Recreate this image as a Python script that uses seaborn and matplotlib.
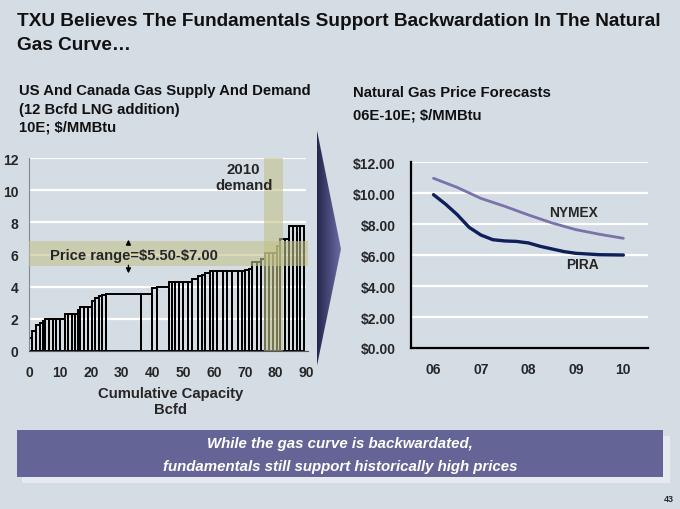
import numpy as np
import pandas as pd
import matplotlib
matplotlib.use("Agg")
import matplotlib.pyplot as plt
from matplotlib.patches import Polygon, Rectangle
import seaborn as sns

# ---------------------------------------------------------------
# DATA
# ---------------------------------------------------------------
# supply stack: bar edges (cumulative capacity, Bcfd) and cost ($/MMBtu)
SUPPLY_EDGES = [0.0, 0.8, 2.2, 3.6, 4.4, 5.2, 6.3, 7.7, 8.8, 10.1, 11.6,
                12.6, 13.8, 15.0, 15.9, 16.6, 17.7, 19.0, 20.4, 21.4, 22.5,
                23.6, 24.9, 36.4, 40.0, 41.4, 45.5, 46.2, 47.3, 48.6, 50.0,
                51.6, 53.0, 54.9, 56.0, 57.2, 58.6, 59.7, 61.0, 63.0, 64.1,
                65.7, 67.9, 69.0, 70.2, 71.2, 72.2, 73.8, 75.4, 76.5, 77.8,
                79.0, 80.3, 81.4, 82.9, 84.4, 85.7, 86.8, 87.9, 89.2]
SUPPLY_PRICE = [0.8, 1.2, 1.6, 1.75, 1.85, 1.95, 2.0, 2.0, 2.0, 2.0,
                2.3, 2.3, 2.3, 2.3, 2.55, 2.75, 2.75, 2.75, 3.1, 3.3,
                3.4, 3.5, 3.55, 3.55, 3.9, 4.0, 4.3, 4.3, 4.3, 4.3,
                4.3, 4.3, 4.45, 4.65, 4.75, 4.85, 4.95, 4.95, 4.95, 4.95,
                4.95, 4.95, 4.95, 4.95, 5.05, 5.1, 5.55, 5.55, 5.75, 6.1,
                6.1, 6.1, 6.55, 6.95, 6.95, 7.75, 7.75, 7.75, 7.75]
PRICE_RANGE = (5.3, 6.83)
DEMAND_2010 = (76.1, 82.4)
SUPPLY_YTICKS = [0, 2, 4, 6, 8, 10, 12]
SUPPLY_XTICKS = [0, 10, 20, 30, 40, 50, 60, 70, 80, 90]

# price forecasts ($/MMBtu)
NYMEX_YEAR = [6.0, 6.5, 7.0, 7.5, 8.0, 8.5, 9.0, 9.5, 10.0]
NYMEX_PRICE = [10.97, 10.38, 9.67, 9.16, 8.60, 8.08, 7.65, 7.35, 7.09]
PIRA_YEAR = [6.0, 6.25, 6.5, 6.75, 7.0, 7.25, 7.5, 7.75, 8.0, 8.25, 8.5,
             8.75, 9.0, 9.5, 10.0]
PIRA_PRICE = [9.91, 9.31, 8.62, 7.80, 7.30, 7.00, 6.92, 6.89, 6.79, 6.57,
              6.40, 6.23, 6.12, 6.03, 6.01]
YEAR_TICKS = [6, 7, 8, 9, 10]
YEAR_LABELS = ['06', '07', '08', '09', '10']
PRICE_TICKS = [0, 2, 4, 6, 8, 10, 12]

BG = '#d4dce4'
BAND = '#c2c28a'
NYMEX_COL = '#7a72aa'
PIRA_COL = '#0f1f5a'

sns.set_theme(style='white')
plt.rcParams['font.family'] = ['Liberation Sans', 'DejaVu Sans']
plt.rcParams['font.weight'] = 'bold'
plt.rcParams['text.parse_math'] = False

fig = plt.figure(figsize=(6.8, 5.1), dpi=100, facecolor=BG)

# overlay in pixel coordinates for slide decorations
deco = fig.add_axes([0, 0, 1, 1], zorder=0)
deco.axis('off')
deco.patch.set_alpha(0)

# chevron with gradient
chev = Polygon([(316.7, 130), (341, 250), (316.7, 368)], closed=True,
               facecolor='none', edgecolor='none')
deco.add_patch(chev)
grad = np.linspace(0, 1, 64).reshape(1, -1)
cmap = matplotlib.colors.LinearSegmentedColormap.from_list('chev', ['#26274c', '#6e6ea8'])
im = deco.imshow(grad, cmap=cmap, extent=(316.7, 341, 368, 130), aspect='auto')
im.set_clip_path(chev)
deco.set_xlim(0, 680)
deco.set_ylim(510, 0)

# banner with shadow
deco.add_patch(Rectangle((22, 437), 648, 47, facecolor='#e6eaee', edgecolor='none'))
deco.add_patch(Rectangle((16.5, 431), 646, 47, facecolor='#646496', edgecolor='none'))
deco.text(340, 444, 'While the gas curve is backwardated,', color='white',
          fontsize=10.8, fontweight='bold', style='italic', ha='center', va='center')
deco.text(340, 467, 'fundamentals still support historically high prices', color='white',
          fontsize=10.8, fontweight='bold', style='italic', ha='center', va='center')
deco.text(669, 500, '43', fontsize=6.5, fontweight='bold', ha='center', va='center')

# titles
deco.text(17, 22, 'TXU Believes The Fundamentals Support Backwardation In The Natural',
          fontsize=13.7, fontweight='bold', color='#111111', va='center')
deco.text(17, 46, 'Gas Curve\u2026', fontsize=13.7, fontweight='bold', color='#111111', va='center')
for y, s in zip([91, 110, 128], ['US And Canada Gas Supply And Demand',
                                 '(12 Bcfd LNG addition)', '10E; $/MMBtu']):
    deco.text(19, y, s, fontsize=10.7, fontweight='bold', color='#111111', va='center')
deco.text(353, 93, 'Natural Gas Price Forecasts', fontsize=10.7, fontweight='bold',
          color='#111111', va='center')
deco.text(353, 115, '06E-10E; $/MMBtu', fontsize=10.7, fontweight='bold',
          color='#111111', va='center')

# ---------------------------------------------------------------
# LEFT: supply stack
# ---------------------------------------------------------------
ax1 = fig.add_axes([0.0431, 0.3104, 0.4143, 0.3772], zorder=1)
ax1.patch.set_alpha(0)
widths = np.diff(SUPPLY_EDGES)
ax1.hlines(SUPPLY_YTICKS[1:], 0, 90, color='white', lw=1.6, zorder=0)
ax1.bar(SUPPLY_EDGES[:-1], SUPPLY_PRICE, width=widths, align='edge',
        facecolor='none', edgecolor='black', linewidth=1.4, zorder=2)
ax1.axhspan(*PRICE_RANGE, xmin=0, xmax=90.4 / 91.5, color=BAND, alpha=0.6, lw=0, zorder=3)
ax1.axvspan(*DEMAND_2010, color=BAND, alpha=0.6, lw=0, zorder=3)
ax1.set_xlim(0, 91.5)
ax1.set_ylim(0, 12)
ax1.set_xticks(SUPPLY_XTICKS)
ax1.set_yticks(SUPPLY_YTICKS)
ax1.tick_params(axis='x', length=0, pad=10, labelsize=10)
ax1.tick_params(axis='y', length=0, pad=8, labelsize=10)
for lab in ax1.get_xticklabels() + ax1.get_yticklabels():
    lab.set_fontweight('bold')
for sp in ['top', 'right']:
    ax1.spines[sp].set_visible(False)
ax1.spines['left'].set_color('#808890')
ax1.spines['left'].set_linewidth(0.8)
ax1.spines['bottom'].set_color('#505860')
ax1.spines['bottom'].set_linewidth(0.8)
ax1.spines['bottom'].set_bounds(0, 90.4)
ax1.set_xlabel('Cumulative Capacity\nBcfd', fontsize=10.7, fontweight='bold', labelpad=5.5,
               linespacing=1.2)
ax1.text(6.7, 6.0, 'Price range=$5.50-$7.00', fontsize=10.6, fontweight='bold',
         va='center', ha='left', zorder=4)
ax1.annotate('', xy=(32.2, 7.1), xytext=(32.2, 6.5),
             arrowprops=dict(arrowstyle='-|>', color='black', lw=1, mutation_scale=7), zorder=4)
ax1.annotate('', xy=(32.2, 4.65), xytext=(32.2, 5.5),
             arrowprops=dict(arrowstyle='-|>', color='black', lw=1, mutation_scale=7), zorder=4)
ax1.text(69.6, 10.85, '2010\ndemand', fontsize=10.8, fontweight='bold',
         ha='center', va='center', linespacing=1.15, zorder=4)

# ---------------------------------------------------------------
# RIGHT: price forecasts
# ---------------------------------------------------------------
ax2 = fig.add_axes([0.604, 0.3157, 0.349, 0.364], zorder=1)
ax2.patch.set_alpha(0)
ax2.grid(axis='y', color='white', lw=1.6)
ax2.set_axisbelow(True)
sns.lineplot(x=NYMEX_YEAR, y=NYMEX_PRICE, color=NYMEX_COL, lw=2, ax=ax2)
sns.lineplot(x=PIRA_YEAR, y=PIRA_PRICE, color=PIRA_COL, lw=2.4, ax=ax2)
ax2.set_xlim(5.52, 10.52)
ax2.set_ylim(0, 12)
ax2.set_xticks(YEAR_TICKS)
ax2.set_xticklabels(YEAR_LABELS)
ax2.set_yticks(PRICE_TICKS)
ax2.set_yticklabels([f'${v:.2f}' for v in PRICE_TICKS])
ax2.tick_params(axis='x', length=0, pad=10, labelsize=10)
ax2.tick_params(axis='y', length=0, pad=11, labelsize=10)
for lab in ax2.get_xticklabels() + ax2.get_yticklabels():
    lab.set_fontweight('bold')
for sp in ['top', 'right']:
    ax2.spines[sp].set_visible(False)
for sp in ['left', 'bottom']:
    ax2.spines[sp].set_color('black')
    ax2.spines[sp].set_linewidth(1.6)
ax2.text(8.95, 8.77, 'NYMEX', fontsize=9.9, fontweight='bold', ha='center', va='center')
ax2.text(9.14, 5.43, 'PIRA', fontsize=9.9, fontweight='bold', ha='center', va='center')

fig.savefig('out.png', dpi=100, facecolor=BG)
